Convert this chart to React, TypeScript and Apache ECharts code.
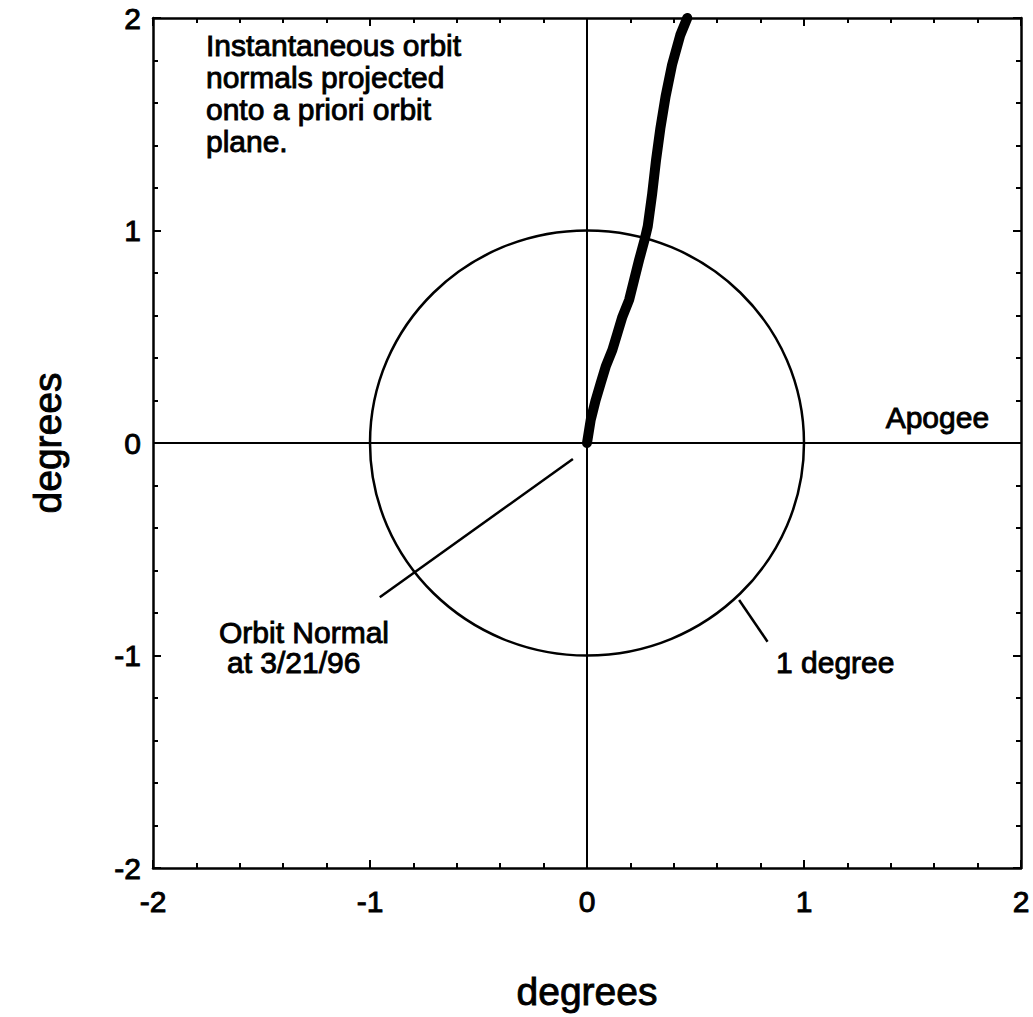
import React, { useEffect, useRef } from "react";
import * as echarts from "echarts";

// ---- data ----
const AXIS_MIN = -2;
const AXIS_MAX = 2;
const AXIS_INTERVAL = 1;

// Instantaneous orbit normal track (degrees)
const orbitX = [0, 0.017, 0.04, 0.063, 0.086, 0.117, 0.14, 0.163, 0.194, 0.217, 0.24, 0.265, 0.28, 0.3, 0.318, 0.338, 0.362, 0.392, 0.43, 0.462];
const orbitY = [0, 0.108, 0.202, 0.281, 0.359, 0.438, 0.516, 0.594, 0.673, 0.767, 0.861, 0.955, 1.02, 1.17, 1.33, 1.48, 1.63, 1.78, 1.92, 2.0];

// 1 degree reference circle: centre x, centre y, radius
const circleSpec = [[0, 0, 1]];

// cross lines through the origin
const hLineX = [-2, 2];
const hLineY = [0, 0];
const vLineX = [0, 0];
const vLineY = [-2, 2];

// leader lines
const leaderOrbitX = [-0.065, -0.955];
const leaderOrbitY = [-0.075, -0.726];
const leaderDegX = [0.701, 0.832];
const leaderDegY = [-0.739, -0.935];

// annotations
const noteTexts = [
  "Instantaneous orbit\nnormals projected\nonto a priori orbit\nplane.",
  "Apogee",
  "1 degree",
  "Orbit Normal",
  "at 3/21/96",
];
const noteX = [-1.756, 1.853, 0.871, -1.696, -1.659];
const noteY = [1.645, 0.118, -1.031, -0.894, -1.035];
const noteAlign = ["left", "right", "left", "left", "left"];

const FONT = '"Liberation Sans", Arial, Helvetica, sans-serif';
const HEAVY = { color: "#000", textBorderColor: "#000", textBorderWidth: 0.9 };

function zip(xs: number[], ys: number[]) {
  return xs.map((x, i) => [x, ys[i]]);
}

export default function App() {
  const ref = useRef<HTMLDivElement>(null);
  useEffect(() => {
    document.body.style.margin = "0";
    if (!ref.current) return;
    const chart = echarts.init(ref.current, undefined, { renderer: "svg" });

    const axisCommon = {
      type: "value" as const,
      min: AXIS_MIN,
      max: AXIS_MAX,
      interval: AXIS_INTERVAL,
      splitLine: { show: false },
      axisLine: { show: true, onZero: false, lineStyle: { color: "#000", width: 2.5 } },
      axisTick: { show: true, inside: true, length: 8, lineStyle: { color: "#000", width: 2 } },
      minorTick: { show: true, splitNumber: 5, length: 5, lineStyle: { color: "#000", width: 2 } },
      minorSplitLine: { show: false },
    };

    const lineStyleBase = { color: "#000", width: 2.5 };

    chart.setOption({
      animation: false,
      backgroundColor: "#fff",
      grid: { left: 153, right: 12, top: 18, bottom: 149, containLabel: false },
      xAxis: [
        {
          ...axisCommon,
          position: "bottom",
          name: "degrees",
          nameLocation: "middle",
          nameGap: 104,
          nameTextStyle: { fontFamily: FONT, fontSize: 39, ...HEAVY },
          axisLabel: { show: true, fontFamily: FONT, fontSize: 30, margin: 18, ...HEAVY },
        },
        { ...axisCommon, position: "top", axisLabel: { show: false } },
      ],
      yAxis: [
        {
          ...axisCommon,
          position: "left",
          name: "degrees",
          nameLocation: "middle",
          nameGap: 86,
          nameRotate: 90,
          nameTextStyle: { fontFamily: FONT, fontSize: 39, ...HEAVY },
          axisLabel: { show: true, fontFamily: FONT, fontSize: 30, margin: 12, ...HEAVY },
        },
        { ...axisCommon, position: "right", axisLabel: { show: false } },
      ],
      series: [
        {
          type: "line",
          data: zip(hLineX, hLineY),
          showSymbol: false,
          lineStyle: { color: "#000", width: 2 },
          silent: true,
        },
        {
          type: "line",
          data: zip(vLineX, vLineY),
          showSymbol: false,
          lineStyle: { color: "#000", width: 2 },
          silent: true,
        },
        {
          type: "custom",
          data: circleSpec,
          silent: true,
          renderItem: (_params: any, api: any) => {
            const c = api.coord([api.value(0), api.value(1)]);
            const s = api.size([api.value(2), api.value(2)]);
            return {
              type: "ellipse",
              shape: { cx: c[0], cy: c[1], rx: s[0], ry: s[1] },
              style: { fill: "none", stroke: "#000", lineWidth: 2.5 },
            };
          },
        },
        {
          type: "line",
          data: zip(leaderOrbitX, leaderOrbitY),
          showSymbol: false,
          lineStyle: lineStyleBase,
          silent: true,
        },
        {
          type: "line",
          data: zip(leaderDegX, leaderDegY),
          showSymbol: false,
          lineStyle: lineStyleBase,
          silent: true,
        },
        {
          type: "line",
          data: zip(orbitX, orbitY),
          showSymbol: false,
          lineStyle: { color: "#000", width: 10, cap: "round", join: "round" },
          silent: true,
        },
        {
          type: "scatter",
          symbolSize: 0,
          itemStyle: { color: "#000" },
          emphasis: { disabled: true },
          silent: true,
          label: { show: true, color: "#000", opacity: 1 },
          data: noteTexts.map((t, i) => ({
            value: [noteX[i], noteY[i]],
            label: {
              show: true,
              position: [0, 0],
              formatter: t,
              align: noteAlign[i],
              verticalAlign: "middle",
              fontFamily: FONT,
              fontSize: 30,
              lineHeight: 32,
              ...HEAVY,
            },
          })),
        },
      ],
    });
    return () => chart.dispose();
  }, []);
  return <div ref={ref} style={{ position: "absolute", left: 0, top: 0, width: 1033, height: 1017 }} />;
}
